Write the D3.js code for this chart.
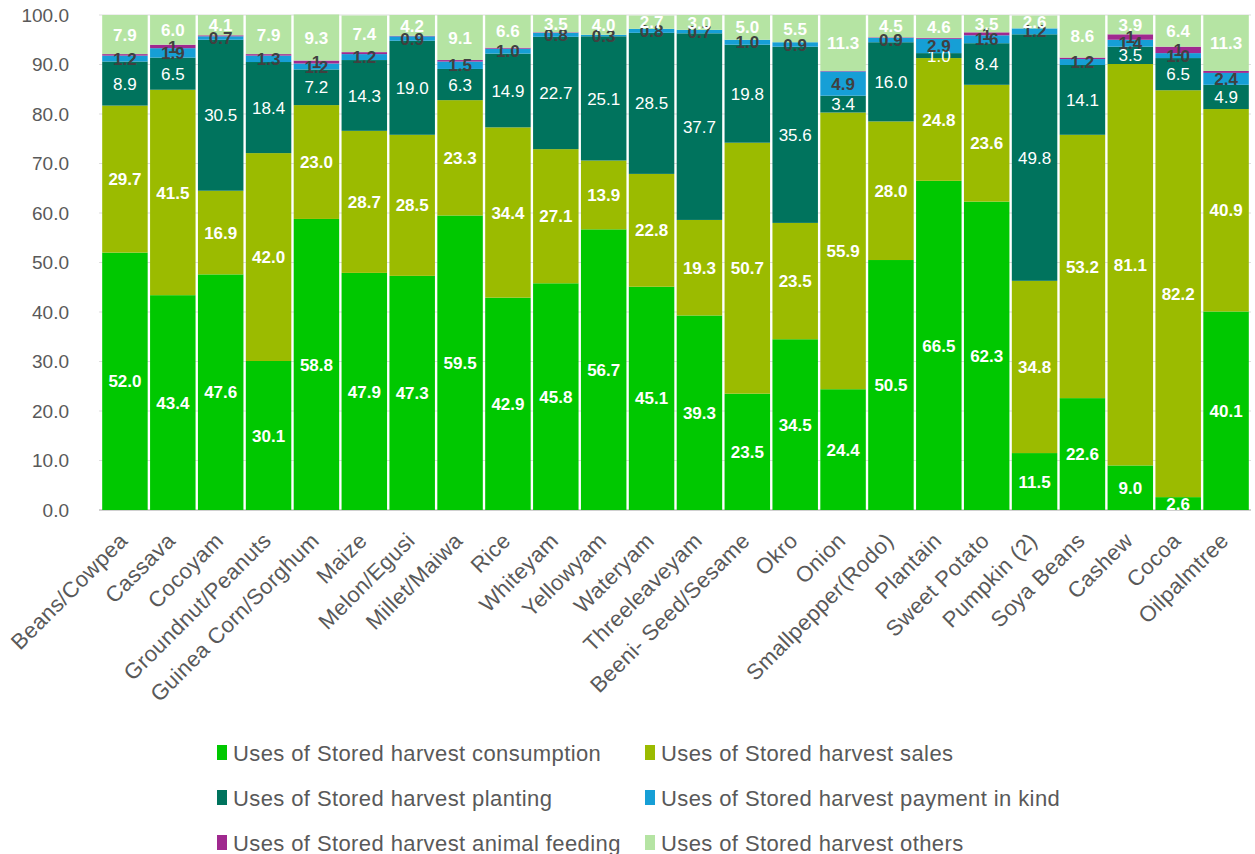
<!DOCTYPE html>
<html>
<head>
<meta charset="utf-8">
<script src="https://cdn.jsdelivr.net/npm/d3@7"></script>
<style>
  body { margin: 0; background: #fff; }
  text { font-family: "Liberation Sans", Arial, sans-serif; }
</style>
</head>
<body>
<svg width="1255" height="854"></svg>
<script>
// Data (percent of stored harvest)
let categories = ["Beans/Cowpea", "Cassava", "Cocoyam", "Groundnut/Peanuts", "Guinea Corn/Sorghum",
  "Maize", "Melon/Egusi", "Millet/Maiwa", "Rice", "Whiteyam", "Yellowyam", "Wateryam",
  "Threeleaveyam", "Beeni- Seed/Sesame", "Okro", "Onion", "Smallpepper(Rodo)", "Plantain",
  "Sweet Potato", "Pumpkin (2)", "Soya Beans", "Cashew", "Cocoa", "Oilpalmtree"];

let consumption = [52.0, 43.4, 47.6, 30.1, 58.8, 47.9, 47.3, 59.5, 42.9, 45.8, 56.7, 45.1,
  39.3, 23.5, 34.5, 24.4, 50.5, 66.5, 62.3, 11.5, 22.6, 9.0, 2.6, 40.1];
let sales = [29.7, 41.5, 16.9, 42.0, 23.0, 28.7, 28.5, 23.3, 34.4, 27.1, 13.9, 22.8,
  19.3, 50.7, 23.5, 55.9, 28.0, 24.8, 23.6, 34.8, 53.2, 81.1, 82.2, 40.9];
let planting = [8.9, 6.5, 30.5, 18.4, 7.2, 14.3, 19.0, 6.3, 14.9, 22.7, 25.1, 28.5,
  37.7, 19.8, 35.6, 3.4, 16.0, 1.0, 8.4, 49.8, 14.1, 3.5, 6.5, 4.9];
let paymentInKind = [1.2, 1.9, 0.7, 1.3, 1.2, 1.2, 0.9, 1.5, 1.0, 0.8, 0.3, 0.8,
  0.7, 1.0, 0.9, 4.9, 0.9, 2.9, 1.6, 1.2, 1.2, 1.4, 1.0, 2.4];
let animalFeeding = [0.3, 0.7, 0.2, 0.3, 0.6, 0.4, 0.1, 0.3, 0.2, 0.1, 0.0, 0.0,
  0.0, 0.0, 0.0, 0.1, 0.1, 0.2, 0.6, 0.0, 0.3, 1.1, 1.3, 0.4];
let others = [7.9, 6.0, 4.1, 7.9, 9.3, 7.4, 4.2, 9.1, 6.6, 3.5, 4.0, 2.7,
  3.0, 5.0, 5.5, 11.3, 4.5, 4.6, 3.5, 2.6, 8.6, 3.9, 6.4, 11.3];

let yTicks = [0, 10, 20, 30, 40, 50, 60, 70, 80, 90, 100];

let seriesNames = ["Uses of Stored harvest consumption", "Uses of Stored harvest sales",
  "Uses of Stored harvest planting", "Uses of Stored harvest payment in kind",
  "Uses of Stored harvest animal feeding", "Uses of Stored harvest others"];
let seriesValues = [consumption, sales, planting, paymentInKind, animalFeeding, others];
let colors = ["#00c800", "#9bbb00", "#00735d", "#169fd6", "#a0298f", "#b5e4a3"];
let labelColors = ["#fff", "#fff", "#fff", "#404040", "#404040", "#fff"];
let labelWeights = ["bold", "bold", "normal", "bold", "bold", "bold"];

let svg = d3.select("svg");
let margin = { left: 101, right: 5, top: 15, bottom: 344 };
let width = +svg.attr("width");
let height = +svg.attr("height");

// rows for the stack
let rows = categories.map(function(c, i) {
  let r = { cat: c };
  seriesValues.forEach(function(v, k) { r["s" + k] = v[i]; });
  return r;
});
let keys = seriesValues.map(function(v, k) { return "s" + k; });
let stacked = d3.stack().keys(keys)(rows);

let x = d3.scaleBand()
  .domain(categories)
  .range([margin.left, width - margin.right])
  .paddingInner(0.05)
  .paddingOuter(0.025);

let y = d3.scaleLinear()
  .domain([0, 100])
  .range([height - margin.bottom, margin.top]);

// gridlines
svg.append("g")
  .selectAll("line")
  .data(yTicks)
  .enter()
  .append("line")
  .attr("x1", margin.left - 2)
  .attr("x2", width - 4)
  .attr("y1", d => y(d))
  .attr("y2", d => y(d))
  .attr("stroke", d => d === 0 ? "#d0d0d0" : "#dedede")
  .attr("stroke-width", d => d === 0 ? 2 : 1.2);

// y axis labels
let yAxis = svg.append("g")
  .attr("transform", "translate(" + (margin.left - 32) + ",0)")
  .call(d3.axisLeft(y).tickValues(yTicks).tickFormat(d3.format(".1f")).tickSize(0).tickPadding(0));
yAxis.select(".domain").remove();
yAxis.selectAll("text")
  .attr("fill", "#595959")
  .style("font-size", "19px")
  .style("font-family", "Liberation Sans, Arial, sans-serif");

// bars
let layers = svg.append("g")
  .selectAll("g")
  .data(stacked)
  .enter()
  .append("g")
  .attr("fill", (d, k) => colors[k]);

layers.selectAll("rect")
  .data(d => d)
  .enter()
  .append("rect")
  .attr("x", d => x(d.data.cat))
  .attr("width", x.bandwidth())
  .attr("y", d => y(d[1]))
  .attr("height", d => y(d[0]) - y(d[1]));

// value labels (animal feeding is shown as whole numbers, zeros hidden)
let fmt1 = d3.format(".1f");
let fmt0 = d3.format(".0f");
stacked.forEach(function(layer, k) {
  let f = k === 4 ? fmt0 : fmt1;
  svg.append("g")
    .selectAll("text")
    .data(layer.filter(d => f(d[1] - d[0]) !== "0" && d[1] - d[0] > 0))
    .enter()
    .append("text")
    .attr("x", d => x(d.data.cat) + x.bandwidth() / 2)
    .attr("y", d => y((d[0] + d[1]) / 2))
    .attr("dy", "0.36em")
    .attr("text-anchor", "middle")
    .attr("fill", labelColors[k])
    .style("font-weight", labelWeights[k])
    .style("font-size", "17px")
    .text(d => f(d[1] - d[0]));
});

// x labels
svg.append("g")
  .selectAll("text")
  .data(categories)
  .enter()
  .append("text")
  .attr("transform", d => "translate(" + (x(d) + x.bandwidth() / 2 + 4) + "," + (y(0) + 32) + ") rotate(-45)")
  .attr("text-anchor", "end")
  .attr("fill", "#595959")
  .style("font-size", "22px")
  .style("letter-spacing", "0.4px")
  .text(d => d);

// legend
let legend = svg.append("g")
  .selectAll("g")
  .data(seriesNames)
  .enter()
  .append("g")
  .attr("transform", (d, i) => "translate(" + (i % 2 === 0 ? 217 : 645) + "," + (745 + Math.floor(i / 2) * 45) + ")");

legend.append("rect")
  .attr("width", 10)
  .attr("height", 15)
  .attr("fill", (d, i) => colors[i]);

legend.append("text")
  .attr("x", 16)
  .attr("y", 8)
  .attr("dy", "0.36em")
  .attr("fill", "#595959")
  .style("font-size", "22px")
  .style("letter-spacing", "0.4px")
  .text(d => d);
</script>
</body>
</html>
